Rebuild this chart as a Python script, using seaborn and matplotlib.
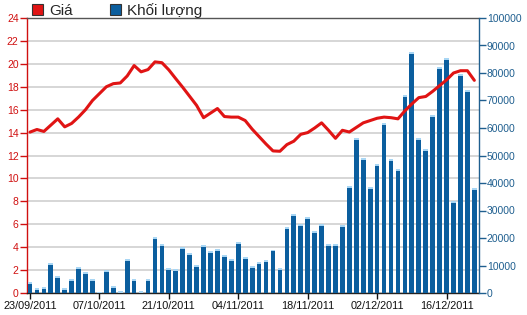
import matplotlib
matplotlib.use("Agg")
import matplotlib.pyplot as plt
import seaborn as sns
import pandas as pd
from matplotlib.patches import Patch

# ---- data ----
price = [14.04, 14.27, 14.1, 14.65, 15.2, 14.5, 14.8, 15.36, 16.0, 16.8,
         17.4, 18.0, 18.27, 18.33, 18.94, 19.85, 19.3, 19.5, 20.17, 20.1,
         19.47, 18.7, 17.95, 17.16, 16.37, 15.3, 15.7, 16.1, 15.4, 15.35,
         15.35, 15.05, 14.3, 13.65, 13.0, 12.4, 12.37, 12.95, 13.25, 13.85,
         14.0, 14.4, 14.85, 14.2, 13.5, 14.2, 14.05, 14.45, 14.85, 15.05,
         15.25, 15.35, 15.3, 15.2, 15.9, 16.5, 17.05, 17.15, 17.6, 18.1,
         18.6, 19.2, 19.4, 19.4, 18.56]
volume = [4000, 1700, 2100, 10800, 6100, 1700, 5000, 9600, 7600, 5200,
          500, 8400, 2400, 800, 12400, 5200, 800, 5200, 20400, 17700,
          9200, 8800, 16700, 14400, 10100, 17600, 15300, 16000, 13700, 12500,
          18400, 13200, 9700, 11200, 12100, 15800, 9000, 24000, 28800, 25200,
          27600, 22500, 25200, 17700, 17900, 24800, 38800, 56400, 49100, 38400,
          46800, 61900, 48700, 45200, 72000, 87500, 56400, 52400, 64800, 82300,
          85600, 33600, 79500, 73900, 38100]
tick_pos = [0, 10, 20, 30, 40, 50, 60]
tick_labels = ["23/09/2011", "07/10/2011", "21/10/2011", "04/11/2011",
               "18/11/2011", "02/12/2011", "16/12/2011"]
legend_labels = ["Giá", "Khối lượng"]

RED = "#e01414"
AXRED = "#d01010"
BLUE = "#0b5e9e"
CAP = "#a8d6f4"
AXBLUE = "#1f5f8f"

sns.set_theme(style="white")
plt.rcParams["font.family"] = ["Liberation Sans", "DejaVu Sans"]

df = pd.DataFrame({"idx": list(range(len(price))), "price": price, "volume": volume})

W, H = 527, 315
fig = plt.figure(figsize=(W / 100, H / 100), dpi=100)
fig.patch.set_facecolor("white")
L, R, T, B = 27, 478.5, 18, 293
ax = fig.add_axes([L / W, (H - B) / H, (R - L) / W, (B - T) / H])
ax2 = ax.twinx()
ax3 = ax.twinx()

# bars (volume)
sns.barplot(data=df, x="idx", y="volume", ax=ax2, color=BLUE, saturation=1,
            width=0.68, linewidth=0)
cap = 700
ax2.bar(df["idx"], cap, bottom=df["volume"] - cap, width=0.68, color=CAP, linewidth=0)

# line (price)
sns.lineplot(data=df, x="idx", y="price", ax=ax3, color=RED, linewidth=2.2)

# price axis (left)
ax.set_ylim(0, 24)
ax.set_yticks(range(0, 25, 2))
ax.yaxis.grid(True, color="#cccccc", linewidth=1.1)
ax.xaxis.grid(False)
ax.set_axisbelow(True)
ax.tick_params(axis="y", left=True, colors=AXRED, length=5, width=1,
               direction="out", labelsize=7.5, pad=1)
ax.spines["left"].set_color(AXRED)
ax.spines["top"].set_color("#555555")
ax.spines["bottom"].set_color("#222222")
ax.spines["right"].set_visible(False)
for s in ax.spines.values():
    s.set_linewidth(1)

# volume axis (right)
ax2.set_ylim(0, 100000)
ax2.set_yticks(range(0, 100001, 10000))
ax2.tick_params(axis="y", right=True, left=False, colors=AXBLUE, length=5, width=1,
                direction="out", labelsize=7.5, pad=1, labelright=True, labelleft=False)
for s in ["left", "top", "bottom"]:
    ax2.spines[s].set_visible(False)
ax2.spines["right"].set_color(AXBLUE)
ax2.spines["right"].set_linewidth(1)
ax2.set_xlabel("")
ax2.set_ylabel("")
ax2.grid(False)

ax3.set_ylim(0, 24)
ax3.axis("off")
ax3.set_xlabel("")
ax3.set_ylabel("")

# x axis
ax.set_xlim(-0.43, 64.6)
ax.set_xticks(tick_pos, tick_labels)
ax.tick_params(axis="x", bottom=True, colors="#111111", length=4, width=1,
               direction="out", labelsize=7.8, pad=2)
ax.set_xlabel("")
ax.set_ylabel("")

handles = [Patch(facecolor=RED, edgecolor="#333333", linewidth=0.8),
           Patch(facecolor=BLUE, edgecolor="#333333", linewidth=0.8)]
fig.legend(handles, legend_labels, loc="upper left", bbox_to_anchor=(32 / W, 1 - 3 / H),
           ncol=2, frameon=False, fontsize=11, handlelength=0.75, handleheight=0.75,
           handletextpad=0.4, columnspacing=2.4, borderpad=0, borderaxespad=0)

fig.savefig("out.png", dpi=100, facecolor="white")
